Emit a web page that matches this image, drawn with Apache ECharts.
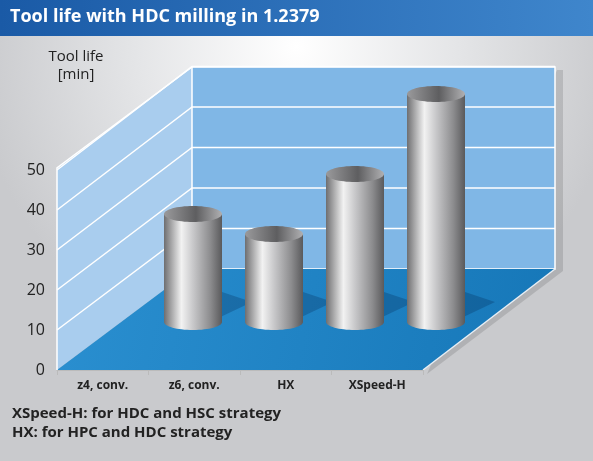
<!DOCTYPE html>
<html><head><meta charset="utf-8">
<script src="https://cdn.jsdelivr.net/npm/echarts@6/dist/echarts.min.js"></script>
<style>html,body{margin:0;padding:0;}#c{width:593px;height:461px;}</style>
</head><body><div id="c"></div>
<script>
const categories = ['z4, conv.', 'z6, conv.', 'HX', 'XSpeed-H'];
const toolLife = [27, 22, 37, 57];
const yTicks = [0, 10, 20, 30, 40, 50];

const chart = echarts.init(document.getElementById('c'));
const F = 'Open Sans';
const BL = 192, BR = 555, FRX = 423, BB = 269, step = 40.5;
const g = [];
g.push({type:'rect',shape:{x:0,y:0,width:593,height:461},z:-10,style:{fill:new echarts.graphic.RadialGradient(0.5,0.1,0.7,[{offset:0,color:'#ffffff'},{offset:0.5,color:'#e4e5e7'},{offset:1,color:'#c9cacd'}])}});
g.push({type:'rect',shape:{x:0,y:0,width:593,height:36},z:-9,style:{fill:new echarts.graphic.LinearGradient(0,0,1,0,[{offset:0,color:'#1a5aa6'},{offset:1,color:'#3f86cc'}])}});
g.push({type:'text',x:10,y:8,z:5,style:{text:'Tool life with HDC milling in 1.2379',fill:'#fff',font:'bold 18px '+F}});
g.push({type:'polygon',z:-8,shape:{points:[[FRX+4,374],[BR+8,BB+2],[BR+8,70],[BR+2,70]]},style:{fill:'rgba(0,0,0,0.12)'}});
g.push({type:'polygon',z:-7,shape:{points:[[57,370],[57,168],[BL,67],[BL,BB]]},style:{fill:'#a9cdee'}});
g.push({type:'rect',z:-7,shape:{x:BL,y:67,width:BR-BL,height:BB-67},style:{fill:'#80b7e6',stroke:'#fff',lineWidth:1.5}});
g.push({type:'polygon',z:-6,shape:{points:[[57,370],[FRX,370],[BR,BB],[BL,BB]]},style:{fill:new echarts.graphic.LinearGradient(0,0,1,1,[{offset:0,color:'#2a8fd0'},{offset:1,color:'#1677b8'}])}});
g.push({type:'polyline',z:-5,shape:{points:[[FRX,370],[BR,BB]]},style:{stroke:'#e8eef4',lineWidth:1.5}});
for (let k=1;k<=5;k++){
  const yf=370-40*k, yb=BB-step*k;
  g.push({type:'polyline',z:-5,shape:{points:[[57,yf],[BL,yb],[BR,yb]]},style:{stroke:'#fff',lineWidth:1.5}});
}
g.push({type:'polyline',z:-5,shape:{points:[[57,370],[57,168],[BL,67]]},style:{stroke:'#fff',lineWidth:1.5}});
g.push({type:'text',x:76,y:48,z:5,style:{text:'Tool life\n[min]',fill:'#222',font:'15px '+F,align:'center',lineHeight:18}});
g.push({type:'text',x:12,y:404,z:5,style:{text:'XSpeed-H: for HDC and HSC strategy\nHX: for HPC and HDC strategy',fill:'#222',font:'bold 15px '+F,lineHeight:19}});

chart.setOption({
  animation:false,
  graphic:g,
  grid:[
    {left:57,width:366,top:170,height:200},
    {left:152.5,width:324,top:82,height:240}
  ],
  xAxis:[
    {type:'category',gridIndex:0,data:categories,axisLine:{lineStyle:{color:'#bbb'}},axisTick:{show:true,length:5,lineStyle:{color:'#bbb'}},axisLabel:{color:'#222',fontFamily:F,fontWeight:'bold',fontSize:12,margin:10}},
    {type:'category',gridIndex:1,data:categories,show:false}
  ],
  yAxis:[
    {type:'value',gridIndex:0,min:0,max:50,interval:10,axisLine:{show:false},axisTick:{show:false},splitLine:{show:false},axisLabel:{color:'#222',fontFamily:F,fontSize:16,margin:12,formatter:v=>yTicks.includes(v)?String(v):''}},
    {type:'value',gridIndex:1,min:0,max:60,interval:10,show:false,splitLine:{show:false}}
  ],
  series:[{
    type:'custom',xAxisIndex:1,yAxisIndex:1,data:toolLife.map((v,i)=>[i,v]),clip:false,
    renderItem:function(params,api){
      const i=api.value(0), v=api.value(1);
      const b=api.coord([i,0]), t=api.coord([i,v]);
      const r=29, ry=8;
      const body=new echarts.graphic.LinearGradient(0,0,1,0,[{offset:0,color:'#6e6e70'},{offset:0.3,color:'#f2f2f2'},{offset:0.5,color:'#c8c8ca'},{offset:0.8,color:'#8c8c8e'},{offset:1,color:'#5a5a5c'}]);
      const top=new echarts.graphic.LinearGradient(0,0,1,0,[{offset:0,color:'#9a9a9c'},{offset:0.55,color:'#5e5e60'},{offset:1,color:'#b0b0b2'}]);
      return {type:'group',children:[
        {type:'polygon',shape:{points:[[b[0],b[1]+ry],[b[0]+r+30,b[1]-20],[b[0]+r,b[1]-30]]},style:{fill:'rgba(0,30,70,0.25)'}},
        {type:'ellipse',shape:{cx:b[0],cy:b[1],rx:r,ry:ry},style:{fill:body}},
        {type:'rect',shape:{x:b[0]-r,y:t[1],width:2*r,height:b[1]-t[1]},style:{fill:body}},
        {type:'ellipse',shape:{cx:t[0],cy:t[1],rx:r,ry:ry},style:{fill:top}}
      ]};
    }
  }]
});
</script></body></html>
